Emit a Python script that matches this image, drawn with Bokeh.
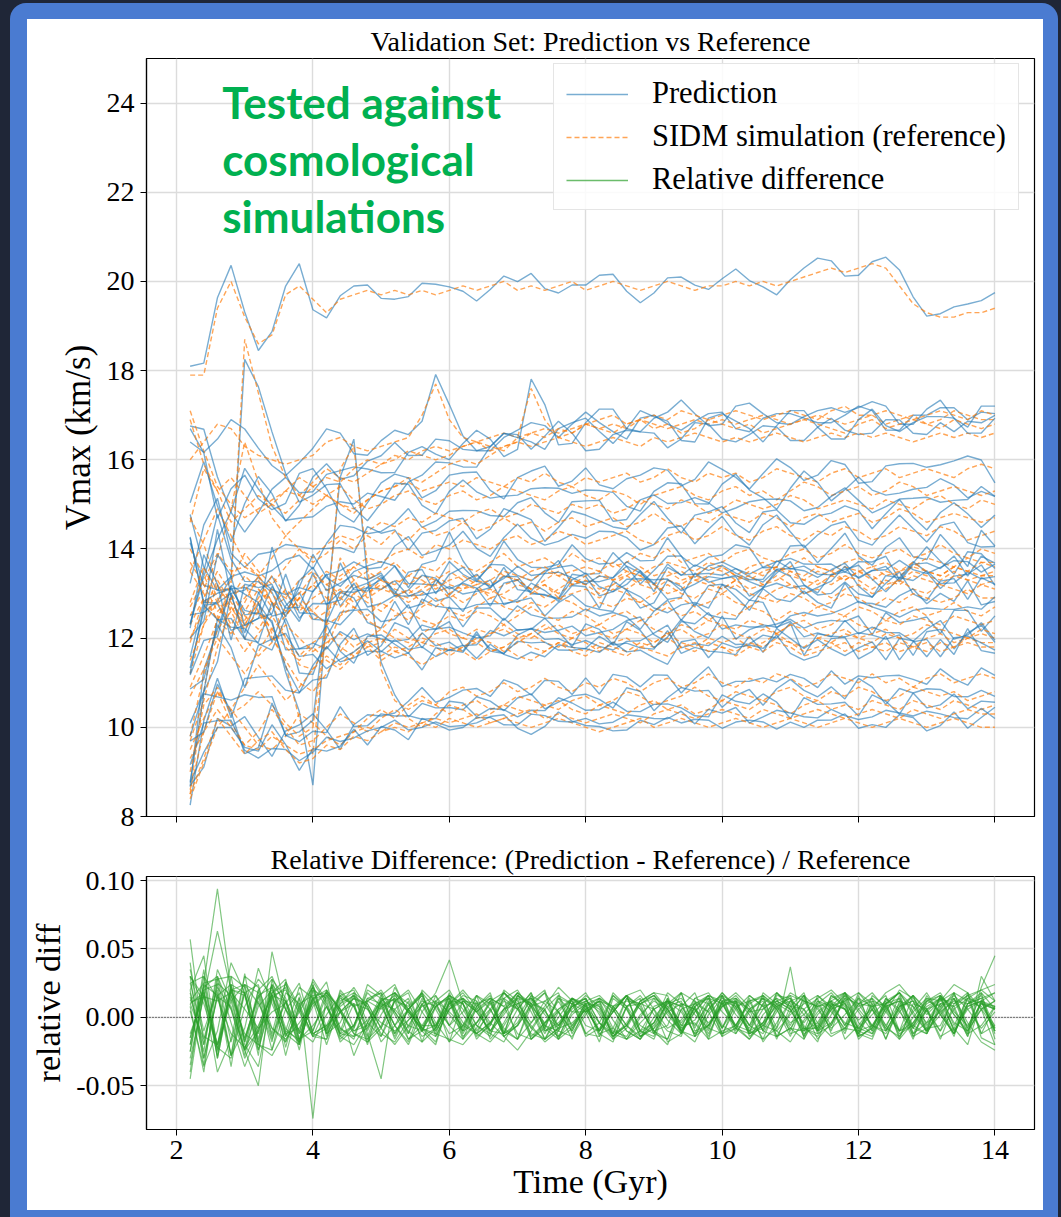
from bokeh.plotting import figure
from bokeh.layouts import column
from bokeh.models import Range1d, FixedTicker, Span, Label, Legend, LegendItem, PrintfTickFormatter
from bokeh.embed import file_html
from bokeh.resources import INLINE

# ---------------- data ----------------
time_gyr = [2.2, 2.4, 2.6, 2.8, 3.0, 3.2, 3.4, 3.6, 3.8, 4.0,
            4.2, 4.4, 4.6, 4.8, 5.0, 5.2, 5.4, 5.6, 5.8, 6.0,
            6.2, 6.4, 6.6, 6.8, 7.0, 7.2, 7.4, 7.6, 7.8, 8.0,
            8.2, 8.4, 8.6, 8.8, 9.0, 9.2, 9.4, 9.6, 9.8, 10.0,
            10.2, 10.4, 10.6, 10.8, 11.0, 11.2, 11.4, 11.6, 11.8, 12.0,
            12.2, 12.4, 12.6, 12.8, 13.0, 13.2, 13.4, 13.6, 13.8, 14.0]

# SIDM simulation (reference) Vmax, km/s
ref_s01 = [17.9, 17.9, 19.4, 20.0, 19.2, 18.6, 18.8, 19.7, 19.9, 19.6,
           19.3, 19.6, 19.7, 19.8, 19.7, 19.8, 19.7, 19.8, 19.7, 19.8,
           19.9, 19.8, 19.9, 20.0, 19.8, 19.9, 19.8, 19.9, 20.0, 19.8,
           19.9, 20.0, 19.9, 19.8, 19.9, 20.0, 19.9, 19.8, 19.9, 19.9,
           20.0, 19.9, 20.0, 19.9, 20.0, 20.1, 20.2, 20.3, 20.2, 20.3,
           20.4, 20.3, 19.9, 19.5, 19.3, 19.2, 19.2, 19.3, 19.3, 19.4]
ref_s02 = [16.0, 16.4, 16.8, 16.7, 16.3, 16.1, 16.0, 15.9, 16.0, 16.1,
           16.4, 16.5, 16.3, 16.2, 16.3, 16.4, 16.5, 17.0, 17.7, 16.9,
           16.5, 16.4, 16.5, 16.6, 16.5, 16.6, 16.7, 16.6, 16.7, 16.8,
           16.7, 16.8, 16.7, 16.9, 16.8, 16.7, 16.8, 16.9, 16.8, 16.9,
           16.8, 16.9, 17.0, 16.9, 16.8, 16.9, 17.0, 16.9, 16.8, 16.9,
           17.0, 16.8, 16.9, 17.0, 16.8, 16.9, 17.1, 17.0, 16.9, 16.9]
ref_s03 = [17.1, 16.2, 15.4, 15.0, 14.7, 14.9, 15.1, 15.3, 15.2, 15.5,
           15.8, 15.6, 15.5, 15.7, 15.9, 16.0, 16.2, 16.1, 16.0, 16.1,
           16.3, 16.4, 16.3, 16.2, 16.5, 17.6, 16.9, 16.5, 16.6, 16.8,
           16.9, 17.0, 16.8, 16.9, 17.0, 16.9, 17.1, 17.0, 16.9, 17.0,
           17.1, 17.0, 16.9, 17.0, 17.1, 17.0, 16.9, 17.1, 17.2, 17.0,
           17.0, 17.1, 17.0, 16.9, 17.0, 17.1, 17.0, 16.9, 17.1, 17.0]
ref_s04 = [14.6, 15.8, 15.3, 14.6, 14.9, 15.2, 15.0, 14.8, 15.1, 15.4,
           15.6, 15.5, 15.8, 16.0, 15.9, 16.1, 16.0, 16.2, 16.3, 16.2,
           16.3, 16.4, 16.2, 16.3, 16.4, 16.3, 16.4, 16.5, 16.4, 16.3,
           16.4, 16.5, 16.4, 16.3, 16.5, 16.4, 16.5, 16.6, 16.5, 16.4,
           16.5, 16.4, 16.5, 16.6, 16.5, 16.4, 16.5, 16.6, 16.5, 16.6,
           16.5, 16.6, 16.5, 16.4, 16.5, 16.6, 16.5, 16.6, 16.5, 16.6]
ref_s05 = [12.5, 13.1, 13.8, 14.9, 16.4, 15.5, 14.7, 14.3, 14.6, 14.9,
           15.2, 15.0, 14.8, 15.1, 15.3, 15.4, 15.6, 15.5, 15.7, 15.9,
           16.0, 15.9, 16.1, 16.3, 16.4, 16.6, 16.5, 16.7, 16.6, 16.8,
           16.7, 16.6, 16.8, 16.9, 16.7, 16.8, 16.6, 16.7, 16.9, 16.8,
           16.7, 16.8, 16.6, 16.7, 16.8, 16.9, 16.8, 16.7, 16.6, 16.8,
           16.9, 16.7, 16.8, 16.9, 16.8, 16.7, 16.9, 16.8, 16.7, 16.8]
ref_s06 = [16.9, 15.9, 15.3, 15.6, 15.2, 14.8, 15.0, 15.3, 15.6, 15.4,
           15.2, 15.0, 14.9, 15.1, 15.3, 15.4, 15.5, 15.3, 15.4, 15.5,
           15.4, 15.6, 15.5, 15.4, 15.6, 15.5, 15.7, 15.5, 15.4, 15.6,
           15.5, 15.6, 15.7, 15.5, 15.6, 15.8, 15.6, 15.5, 15.7, 15.6,
           15.7, 15.5, 15.6, 15.8, 15.7, 15.6, 15.5, 15.7, 15.8, 15.6,
           15.7, 15.8, 15.6, 15.7, 15.8, 15.7, 15.6, 15.8, 15.9, 15.8]
ref_s07 = [12.3, 12.9, 12.4, 13.2, 18.7, 17.5, 16.3, 15.6, 15.2, 15.0,
           15.2, 15.4, 15.1, 14.9, 15.0, 15.2, 15.3, 15.1, 15.0, 15.2,
           15.3, 15.1, 15.2, 15.4, 15.3, 15.2, 15.1, 15.3, 15.4, 15.2,
           15.1, 15.3, 15.2, 15.0, 15.2, 15.3, 15.4, 15.2, 15.1, 15.3,
           15.4, 15.2, 15.3, 15.1, 15.3, 15.5, 15.4, 15.2, 15.3, 15.4,
           15.2, 15.3, 15.5, 15.4, 15.2, 15.3, 15.4, 15.3, 15.2, 15.3]
ref_s08 = [14.0, 13.4, 12.8, 13.3, 13.9, 13.5, 13.2, 13.6, 14.0, 13.8,
           14.1, 14.3, 14.2, 14.4, 14.6, 14.5, 14.7, 14.6, 14.8, 14.7,
           14.6, 14.8, 14.9, 14.7, 14.8, 15.0, 14.9, 14.8, 15.0, 14.9,
           15.0, 14.8, 14.9, 15.1, 15.0, 14.9, 15.1, 15.0, 14.8, 14.9,
           15.1, 15.0, 14.9, 15.0, 15.2, 15.1, 14.9, 15.0, 15.1, 15.0,
           14.9, 15.1, 15.0, 14.9, 15.1, 15.2, 15.0, 14.9, 15.1, 15.0]
ref_s09 = [13.5, 14.2, 14.9, 14.3, 13.7, 13.4, 13.8, 14.3, 14.0, 13.7,
           13.9, 14.2, 14.0, 14.3, 14.1, 14.4, 14.2, 14.5, 14.3, 14.4,
           14.6, 14.4, 14.5, 14.7, 14.5, 14.6, 14.4, 14.6, 14.7, 14.5,
           14.6, 14.7, 14.5, 14.6, 14.8, 14.6, 14.5, 14.7, 14.6, 14.8,
           14.7, 14.6, 14.8, 14.7, 14.5, 14.7, 14.8, 14.6, 14.7, 14.8,
           14.6, 14.7, 14.9, 14.8, 14.6, 14.7, 14.8, 14.7, 14.6, 14.7]
ref_s10 = [14.7, 14.1, 13.2, 12.6, 12.9, 13.3, 12.8, 12.5, 12.9, 13.2,
           13.5, 13.3, 13.6, 13.8, 13.7, 13.9, 14.0, 13.8, 14.1, 14.0,
           14.2, 14.1, 14.0, 14.2, 14.3, 14.1, 14.2, 14.4, 14.3, 14.1,
           14.2, 14.3, 14.4, 14.2, 14.1, 14.3, 14.4, 14.2, 14.3, 14.5,
           14.3, 14.2, 14.4, 14.5, 14.3, 14.2, 14.4, 14.3, 14.5, 14.4,
           14.2, 14.3, 14.5, 14.4, 14.3, 14.5, 14.4, 14.2, 14.3, 14.4]
ref_s11 = [13.7, 13.2, 12.6, 12.9, 13.4, 13.1, 12.7, 12.9, 13.3, 13.5,
           13.2, 13.4, 13.6, 13.3, 13.5, 13.7, 13.4, 13.6, 13.5, 13.8,
           13.6, 13.5, 13.7, 13.9, 13.6, 13.7, 13.8, 13.6, 13.9, 13.7,
           13.8, 13.6, 13.7, 13.9, 13.8, 14.0, 13.7, 13.8, 13.9, 13.7,
           13.9, 14.0, 13.8, 13.7, 13.9, 14.0, 13.8, 13.9, 14.1, 13.9,
           13.8, 13.9, 14.0, 13.8, 13.9, 14.1, 13.9, 13.8, 14.0, 13.9]
ref_s12 = [12.7, 13.3, 13.9, 13.5, 13.6, 13.4, 12.8, 12.0, 11.4, 11.3,
           11.8, 12.5, 13.0, 13.2, 13.1, 13.3, 13.2, 13.4, 13.3, 13.5,
           13.3, 13.4, 13.6, 13.4, 13.3, 13.5, 13.6, 13.4, 13.5, 13.6,
           13.5, 13.7, 13.5, 13.4, 13.6, 13.7, 13.6, 13.5, 13.7, 13.6,
           13.4, 13.6, 13.7, 13.5, 13.6, 13.8, 13.6, 13.5, 13.7, 13.8,
           13.6, 13.7, 13.5, 13.6, 13.8, 13.7, 13.6, 13.8, 13.7, 13.7]
ref_s13 = [11.2, 12.3, 13.2, 12.7, 12.3, 12.8, 13.1, 12.9, 12.6, 12.9,
           13.1, 12.9, 13.2, 13.0, 13.3, 13.1, 13.0, 13.2, 13.4, 13.2,
           13.1, 13.3, 13.2, 13.4, 13.3, 13.1, 13.3, 13.5, 13.3, 13.2,
           13.4, 13.3, 13.5, 13.4, 13.2, 13.4, 13.5, 13.3, 13.4, 13.6,
           13.4, 13.3, 13.5, 13.6, 13.4, 13.3, 13.5, 13.4, 13.6, 13.5,
           13.3, 13.5, 13.4, 13.6, 13.5, 13.4, 13.6, 13.5, 13.7, 13.6]
ref_s14 = [13.5, 13.0, 12.4, 12.1, 12.6, 13.1, 12.8, 12.5, 12.9, 13.2,
           12.9, 13.1, 12.8, 13.0, 13.2, 13.0, 12.9, 13.1, 13.3, 13.0,
           13.2, 13.1, 13.0, 13.2, 13.3, 13.1, 13.2, 13.0, 13.2, 13.3,
           13.1, 13.2, 13.4, 13.2, 13.1, 13.3, 13.2, 13.4, 13.3, 13.1,
           13.3, 13.4, 13.2, 13.3, 13.5, 13.3, 13.2, 13.4, 13.3, 13.5,
           13.4, 13.2, 13.3, 13.5, 13.4, 13.3, 13.5, 13.3, 13.4, 13.4]
ref_s15 = [8.5, 10.8, 12.5, 12.9, 12.3, 12.8, 12.1, 11.4, 10.2, 9.4,
           12.3, 13.8, 13.3, 12.9, 13.1, 13.0, 12.8, 13.0, 13.2, 12.9,
           13.1, 13.2, 12.9, 13.0, 13.2, 13.1, 12.9, 13.1, 13.3, 13.2,
           13.0, 13.2, 13.1, 13.3, 13.2, 13.0, 13.1, 13.3, 13.2, 13.1,
           13.3, 13.1, 13.2, 13.4, 13.2, 13.1, 13.3, 13.2, 13.4, 13.3,
           13.1, 13.3, 13.2, 13.4, 13.3, 13.2, 13.4, 13.3, 13.2, 13.3]
ref_s16 = [12.0, 12.6, 13.3, 12.8, 12.4, 12.9, 13.4, 13.0, 12.7, 12.6,
           12.9, 12.7, 13.0, 12.8, 12.6, 12.9, 13.1, 12.8, 12.7, 13.0,
           12.8, 13.0, 13.1, 12.9, 12.8, 13.0, 13.2, 12.9, 13.0, 13.1,
           12.9, 13.1, 13.0, 12.8, 13.0, 13.2, 13.0, 12.9, 13.1, 13.0,
           13.2, 13.0, 12.9, 13.1, 13.2, 13.0, 13.1, 12.9, 13.1, 13.2,
           13.0, 13.1, 13.3, 13.1, 13.0, 13.2, 13.1, 13.0, 13.2, 13.1]
ref_s17 = [11.9, 12.9, 13.5, 13.0, 12.5, 12.2, 12.7, 13.1, 12.8, 12.4,
           12.6, 12.9, 12.7, 12.5, 12.8, 12.6, 12.4, 12.7, 12.9, 12.6,
           12.5, 12.7, 12.9, 12.7, 12.6, 12.8, 12.7, 12.9, 12.8, 12.6,
           12.8, 12.7, 12.9, 12.8, 12.6, 12.8, 12.9, 12.7, 12.8, 13.0,
           12.8, 12.7, 12.9, 12.8, 13.0, 12.9, 12.7, 12.8, 13.0, 12.9,
           12.7, 12.9, 12.8, 13.0, 12.9, 12.8, 12.9, 13.1, 12.9, 12.9]
ref_s18 = [10.9, 11.6, 12.4, 12.9, 13.2, 12.6, 12.2, 12.5, 12.9, 12.6,
           12.3, 12.5, 12.7, 12.4, 12.2, 12.5, 12.6, 12.4, 12.3, 12.5,
           12.4, 12.6, 12.5, 12.3, 12.5, 12.7, 12.5, 12.4, 12.6, 12.5,
           12.3, 12.5, 12.6, 12.4, 12.5, 12.7, 12.5, 12.6, 12.4, 12.6,
           12.5, 12.7, 12.6, 12.4, 12.6, 12.5, 12.7, 12.6, 12.5, 12.7,
           12.6, 12.4, 12.6, 12.7, 12.5, 12.6, 12.8, 12.6, 12.5, 12.7]
ref_s19 = [12.8, 13.6, 12.9, 12.3, 12.8, 13.4, 13.0, 12.6, 13.0, 13.4,
           13.2, 13.0, 13.3, 13.5, 13.3, 13.2, 13.4, 13.3, 13.1, 13.3,
           13.4, 13.2, 13.3, 13.5, 13.4, 13.3, 13.5, 13.4, 13.2, 13.4,
           13.5, 13.3, 13.4, 13.6, 13.4, 13.5, 13.3, 13.4, 13.6, 13.5,
           13.3, 13.5, 13.4, 13.6, 13.5, 13.4, 13.6, 13.5, 13.3, 13.5,
           13.6, 13.4, 13.5, 13.7, 13.5, 13.4, 13.6, 13.5, 13.4, 13.5]
ref_s20 = [9.8, 11.2, 12.2, 12.6, 12.0, 11.6, 11.9, 12.3, 12.0, 11.7,
           11.9, 12.1, 11.8, 12.0, 12.2, 12.0, 11.9, 12.1, 12.3, 12.1,
           12.0, 12.2, 12.1, 12.3, 12.1, 12.0, 12.2, 12.3, 12.1, 12.2,
           12.3, 12.1, 12.2, 12.4, 12.2, 12.1, 12.3, 12.2, 12.4, 12.3,
           12.2, 12.4, 12.3, 12.1, 12.3, 12.4, 12.2, 12.3, 12.5, 12.3,
           12.2, 12.4, 12.3, 12.5, 12.4, 12.3, 12.5, 12.4, 12.3, 12.4]
ref_s21 = [11.5, 12.3, 12.8, 12.2, 11.7, 12.1, 12.5, 12.0, 11.6, 11.9,
           12.1, 11.8, 11.6, 11.9, 12.0, 11.7, 11.8, 12.0, 11.9, 11.7,
           11.8, 12.0, 11.9, 11.7, 11.9, 12.1, 11.9, 11.8, 12.0, 11.9,
           11.7, 11.9, 12.0, 11.8, 11.9, 12.1, 11.9, 11.8, 12.0, 11.9,
           12.0, 11.8, 11.9, 12.1, 11.9, 11.8, 12.0, 11.9, 12.1, 12.0,
           11.9, 12.1, 12.0, 11.8, 12.0, 12.1, 11.9, 12.0, 12.1, 12.0]
ref_s22 = [8.6, 9.9, 10.8, 10.4, 10.9, 11.4, 11.0, 10.6, 10.9, 11.3,
           11.6, 11.4, 11.7, 11.9, 11.6, 11.8, 11.7, 11.9, 11.8, 11.6,
           11.8, 11.9, 11.7, 11.8, 12.0, 11.8, 11.7, 11.9, 11.8, 11.7,
           11.9, 11.8, 11.7, 11.9, 11.8, 12.0, 11.8, 11.7, 11.9, 11.8,
           11.7, 11.9, 11.8, 12.0, 11.9, 11.7, 11.8, 11.9, 11.7, 11.9,
           11.8, 11.7, 11.9, 11.8, 11.7, 11.9, 11.8, 12.0, 11.9, 11.9]
ref_s23 = [10.7, 11.3, 12.0, 11.6, 11.2, 11.7, 12.2, 11.8, 11.5, 11.8,
           11.5, 11.3, 11.6, 11.8, 11.5, 11.7, 11.6, 11.4, 11.6, 11.8,
           11.7, 11.5, 11.7, 11.8, 11.6, 11.5, 11.7, 11.9, 11.7, 11.6,
           11.8, 11.7, 11.6, 11.8, 11.7, 11.6, 11.8, 11.9, 11.7, 11.8,
           11.6, 11.8, 11.7, 11.9, 11.8, 11.6, 11.7, 11.8, 11.9, 11.7,
           11.8, 11.9, 11.7, 11.8, 11.9, 11.7, 11.8, 11.9, 11.8, 11.8]
ref_s24 = [9.7, 10.6, 11.8, 12.7, 12.2, 12.6, 12.0, 11.5, 11.0, 10.8,
           11.2, 11.7, 12.1, 11.8, 11.9, 12.2, 12.0, 11.9, 12.1, 12.2,
           12.0, 11.9, 12.1, 12.2, 12.0, 12.1, 12.3, 12.1, 12.0, 12.2,
           12.1, 12.0, 12.2, 12.1, 11.9, 12.1, 12.2, 12.0, 12.1, 12.3,
           12.1, 12.0, 12.2, 12.1, 12.3, 12.2, 12.0, 12.1, 12.2, 12.0,
           12.1, 12.2, 12.0, 12.1, 12.3, 12.2, 12.1, 12.0, 12.2, 12.1]
ref_s25 = [8.4, 9.2, 10.0, 10.4, 10.0, 9.6, 9.5, 9.8, 10.3, 10.1,
           9.8, 9.6, 9.9, 10.2, 10.4, 10.2, 10.5, 10.7, 10.5, 10.8,
           10.9, 10.7, 10.8, 11.0, 10.8, 10.9, 11.1, 10.9, 10.8, 11.0,
           10.9, 11.1, 11.0, 10.8, 11.0, 11.1, 10.9, 11.0, 11.2, 11.0,
           10.9, 11.1, 11.0, 11.2, 11.1, 10.9, 11.0, 11.2, 11.1, 11.0,
           11.2, 11.0, 11.1, 10.9, 11.1, 11.2, 11.0, 11.1, 11.2, 11.1]
ref_s26 = [9.0, 10.5, 10.9, 10.3, 10.5, 10.8, 10.5, 10.1, 9.8, 10.0,
           12.4, 15.8, 16.3, 13.6, 11.3, 10.6, 10.4, 10.6, 10.5, 10.3,
           10.5, 10.6, 10.4, 10.5, 10.7, 10.6, 10.5, 10.4, 10.6, 10.7,
           10.5, 10.6, 10.8, 10.7, 10.5, 10.6, 10.7, 10.9, 10.7, 10.6,
           10.8, 10.7, 10.6, 10.8, 10.9, 10.7, 10.6, 10.8, 10.7, 10.9,
           10.8, 10.6, 10.7, 10.9, 10.8, 10.7, 10.8, 10.6, 10.7, 10.8]
ref_s27 = [9.5, 10.2, 10.8, 10.1, 9.6, 9.9, 10.4, 10.0, 9.6, 9.7,
           10.0, 10.3, 10.1, 9.9, 10.2, 10.4, 10.2, 10.0, 10.3, 10.5,
           10.4, 10.2, 10.3, 10.5, 10.4, 10.3, 10.5, 10.6, 10.4, 10.3,
           10.5, 10.4, 10.3, 10.5, 10.6, 10.4, 10.5, 10.3, 10.4, 10.6,
           10.5, 10.4, 10.6, 10.5, 10.3, 10.5, 10.6, 10.4, 10.5, 10.4,
           10.6, 10.5, 10.4, 10.6, 10.5, 10.4, 10.6, 10.5, 10.4, 10.5]
ref_s28 = [9.3, 9.9, 10.4, 10.0, 9.6, 9.5, 9.8, 9.6, 9.4, 9.5,
           9.7, 9.8, 9.9, 10.0, 9.9, 10.1, 10.0, 10.1, 10.0, 10.2,
           10.1, 10.0, 10.1, 10.2, 10.1, 10.0, 10.1, 10.2, 10.1, 10.0,
           9.9, 10.0, 10.1, 10.2, 10.0, 10.1, 10.2, 10.1, 10.0, 10.1,
           10.2, 10.1, 10.0, 10.1, 10.2, 10.1, 10.0, 10.1, 10.2, 10.1,
           10.0, 10.1, 10.2, 10.1, 10.0, 10.1, 10.2, 10.1, 10.0, 10.0]
ref_s29 = [8.5, 9.3, 10.2, 9.8, 9.4, 9.7, 9.9, 9.5, 9.2, 9.3,
           9.6, 9.5, 9.8, 9.7, 9.9, 10.0, 9.9, 10.1, 10.2, 10.1,
           10.2, 10.3, 10.1, 10.2, 10.3, 10.4, 10.2, 10.3, 10.2, 10.1,
           10.2, 10.3, 10.2, 10.1, 10.3, 10.4, 10.3, 10.2, 10.3, 10.4,
           10.3, 10.2, 10.4, 10.3, 10.2, 10.3, 10.4, 10.3, 10.2, 10.3,
           10.4, 10.3, 10.2, 10.4, 10.3, 10.2, 10.3, 10.4, 10.3, 10.3]

# relative difference (Prediction - Reference) / Reference, in units of 0.001
rd_s01 = [11, 15, 12, 18, 6, -8, 4, 10, 25, -12, -6, 4, 10, 6, -4, -10, -2, 8, 12, 4,
          -6, -12, -4, 6, 10, 14, 2, -8, -4, 6, 12, 8, -6, -14, -8, 4, 10, 6, -4, 8,
          14, 6, -6, -10, 2, 10, 16, 8, -4, -8, 2, 12, 18, 8, -4, 4, 12, 10, 14, 18]
rd_s02 = [25, -14, -20, 12, 24, 10, -8, -16, -4, 10, 18, 6, -10, -6, 8, 16, 4, -8, 12, 20,
          2, -12, -18, -6, 10, 14, 4, -6, 6, 16, 8, -10, -14, 2, 12, 6, -8, -2, 14, 10,
          -6, -16, -4, 8, 14, 2, -10, -4, 12, 18, 6, -8, -14, 0, 12, 16, 4, -6, 10, 8]
rd_s03 = [-20, 30, 14, -12, -22, -6, 16, 20, 4, -14, -8, 10, 22, 6, -12, -18, -2, 12, 8, -6,
          4, 16, 10, -8, -16, 12, 20, -10, -14, 2, 14, 8, -6, -16, -4, 10, 14, 2, -8, -12,
          6, 16, 8, -10, -18, -2, 12, 4, -8, 10, 18, 6, -12, -6, 8, 14, -4, -10, 6, 12]
rd_s04 = [30, 10, -22, -30, 8, 28, 16, -12, -8, 14, 20, 4, -10, -2, 12, 18, 6, -6, 10, 14,
          -4, -12, 6, 18, 10, -4, 8, 22, 12, -6, -10, 4, 16, 20, 6, -8, -2, 14, 18, 4,
          -6, 10, 16, 8, -4, 2, 14, 20, 10, -2, 6, 18, 24, 12, 4, 14, 8, 16, 20, 24]
rd_s05 = [-15, 22, 30, -4, -36, -10, 18, 24, 6, -12, -16, 4, 14, 10, -8, -20, -6, 10, 16, 2,
          -10, -4, 12, 18, 6, -12, -16, 0, 14, 8, -4, -14, -6, 12, 16, 4, -10, -18, 2, 14,
          10, -6, -12, 4, 18, 12, -4, -14, -8, 6, 14, 4, -10, -4, 10, 16, 2, -12, -6, 8]
rd_s06 = [-12, 16, -40, -16, 30, 22, -8, -18, 6, 26, 10, -14, -20, -4, 12, 18, 6, -10, -6, 10,
          20, 8, -12, -18, 0, 16, 10, -6, 8, 14, -4, -16, -8, 10, 14, -2, -12, 4, 16, 12,
          -6, -10, 6, 14, 8, -4, 10, 18, 6, -8, -12, 4, 20, 14, 2, 12, 24, 18, 6, -20]
rd_s07 = [18, -25, 35, 12, -24, 8, 20, 6, -10, 14, 16, 4, -12, -18, 2, 18, 10, -8, -14, 6,
          16, 12, -4, -14, -6, 10, 18, 4, -10, 8, 14, -2, -16, -10, 6, 12, 4, -12, -6, 10,
          18, 8, -10, -14, 4, 16, 6, -8, 2, 14, 8, -6, -16, -4, 12, 18, 2, -10, 6, -8]
rd_s08 = [10, -16, 22, 6, -30, -8, 24, 12, -10, -18, 2, 16, 20, -4, -14, 6, 14, -8, -12, 10,
          18, 4, -10, 2, 16, 10, -6, -14, 4, 12, 6, -12, -16, 0, 14, 8, -4, 10, 16, -6,
          -12, 4, 14, 8, -8, -16, 2, 12, 18, 6, -6, -10, 8, 16, 4, -10, 6, 14, 20, 12]
rd_s09 = [-20, 24, 16, -28, -8, 36, 10, -14, 4, 22, 8, -12, -6, 14, 18, 2, -16, -10, 8, 16,
          6, -12, -4, 14, 20, 4, -16, -8, 10, 18, 2, -14, -4, 12, 18, 6, -10, 4, 16, 10,
          -8, -16, 2, 12, 6, -10, -4, 14, 18, 4, -10, 6, 14, -6, -12, 8, 16, 6, -8, 4]
rd_s10 = [5, -36, -10, 40, 18, -20, -24, 6, 18, -12, -6, 16, 8, -18, -8, 12, 20, 4, -10, 6,
          14, -6, -12, 4, 18, 10, -8, -16, 2, 10, 14, 6, -10, -16, 0, 12, 8, -6, 10, 16,
          2, -8, 10, 18, 6, -12, -6, 16, 8, -14, -8, 10, 18, 4, -10, 2, 14, -4, -18, -24]
rd_s11 = [40, -30, 15, 8, -24, 20, 30, 6, -12, 28, 12, -18, -8, 24, 16, -6, -20, 4, 18, 42,
          10, -14, -6, 20, 12, -8, -16, 4, 14, 6, -10, 6, 16, -12, -4, 18, 10, -14, -6, 12,
          14, 2, -16, -8, 12, 6, -8, 8, 18, -4, -12, 10, 18, 2, -10, 16, 6, -14, 30, 12]
rd_s12 = [-30, 15, 63, 20, -24, -10, 18, 28, -16, -10, 20, 6, -28, -4, 16, 24, 2, -14, -8, 16,
          10, -10, 4, 18, 8, -16, -6, 14, 10, -12, -4, 16, 8, -14, -6, 10, 18, -10, -6, 8,
          12, -12, -8, 16, 14, -10, 4, 12, -16, -6, 8, 10, -14, 6, 18, 2, -12, 10, 14, -10]
rd_s13 = [12, 25, 94, 20, -15, 16, 22, -8, -18, 12, 26, -14, -6, 18, 8, -12, 6, 16, -4, -18,
          12, 10, -6, 14, -16, -4, 12, 18, -8, 6, -10, 4, 16, 8, -12, 14, -6, 10, 4, -14,
          12, 6, -18, -4, 12, 16, -10, 10, 6, -12, 16, 8, -10, 4, 14, 12, 18, -8, 10, 6]
rd_s14 = [57, -20, 30, 6, -24, -50, 28, 14, -16, 20, -12, -4, 18, 10, -8, 22, 4, -10, -20, 12,
          -16, -4, 10, 14, 6, -6, -18, -10, 8, 12, 4, -12, -6, 10, 16, 2, -10, -14, 6, 18,
          8, -10, -4, 12, 16, -8, -14, 2, 18, 10, -6, -12, 4, 16, 6, -14, -8, 10, 18, -16]
rd_s15 = [20, 45, -25, 20, 18, -18, 24, -14, 15, -74, 20, -8, -16, 12, 20, 4, -10, -18, 8, 16,
          10, -6, -14, 18, 8, -8, 6, -16, 10, 14, -4, -12, 8, 16, 2, -10, -14, 12, 4, 18,
          6, -12, -6, 10, 14, -8, -12, 6, 16, -10, -14, 8, 12, -8, 16, 2, -12, 14, 10, 6]
rd_s16 = [-35, 18, -22, 24, 18, -28, 48, 6, -20, 14, -10, 12, 18, -8, 14, 4, -12, 20, 10, -6,
          -16, 8, 16, -12, 6, 18, -10, -6, 14, 4, -18, 14, 6, -10, -16, 8, 12, -14, 6, 16,
          -8, -12, 18, 10, -6, 14, -10, 8, 12, -16, -6, 10, 14, -8, -12, 6, 18, -10, 12, 8]
rd_s17 = [8, -40, 28, 30, -18, 20, -12, 26, -18, 12, -20, 10, 16, -12, -45, 18, -8, 14, -14, 6,
          12, 4, -10, 6, 18, 8, -16, -8, 14, 10, -12, -8, 14, 10, 6, -18, -12, 8, -10, 16,
          10, -6, 16, 6, -14, 12, 8, -10, 18, -8, 6, -16, 12, 8, -10, 16, -6, 14, -12, -6]
rd_s18 = [25, 30, -30, 22, -16, 16, -24, 18, 10, -14, 8, -16, -6, 20, 14, -6, 12, -18, -8, 16,
          -12, 6, 14, 8, 18, -14, -4, 4, -10, 12, 16, 6, -10, -16, 8, 12, -8, 14, 10, -12,
          -6, 12, 16, -14, -8, 6, -16, -4, 14, 10, 8, 16, -10, -6, 14, 4, -12, 8, 12, 18]
rd_s19 = [-45, 20, 24, -28, 32, -20, 16, -10, 22, 14, -10, 18, 8, -14, 12, -16, 6, 18, -8, 10,
          14, 6, -10, -12, 16, 8, -4, 6, 12, -14, -8, 4, 16, -10, -14, 12, 8, 18, -6, 10,
          12, -14, -6, 10, 4, 16, -12, -6, 14, -10, -6, 10, 18, -12, -4, 14, 10, 16, 6, 12]
rd_s20 = [30, -35, 18, -28, 18, 24, -14, 12, -20, 16, -12, 4, 14, 8, -18, -6, 6, 16, -8, 12,
          10, -16, -4, 12, 6, 18, -6, -10, 14, -12, -14, 8, 16, 6, -10, -16, 6, 10, 14, -8,
          8, -12, -4, 18, 10, -14, 12, 8, -10, 16, -10, 14, 4, -8, 6, -16, 10, 18, -12, 8]
rd_s21 = [-25, 35, -30, 20, 24, -16, 24, -22, 14, -10, 16, -8, -14, 12, 6, 14, -12, 10, -6, 18,
          -8, 12, -16, -4, 14, 10, 6, 16, -12, 4, 10, -14, -6, 12, 18, 16, -10, 6, -14, 12,
          -12, 6, 14, -8, 37, -16, 8, 12, -6, 10, 14, -10, 6, -16, 12, 8, -12, 10, 16, -8]
rd_s22 = [-40, 25, 28, -18, 18, -24, 14, 22, -12, 8, 18, 6, -12, -16, 8, 14, 4, -8, -18, 12,
          -10, 16, 6, -12, -6, 8, 18, -14, -6, 6, 12, 4, 16, -10, -4, 14, -12, 8, -16, -10,
          -6, 12, -10, 18, 8, 6, 14, -12, -8, -10, 10, -16, 8, 12, -10, 6, -14, 18, -15, -20]
rd_s23 = [15, -20, 25, 16, -28, 12, -18, 26, 8, -14, -16, 20, 8, 12, 18, -12, 6, -10, 16, -6,
          12, 4, 14, -14, -6, 16, -10, -4, 8, 14, -10, 18, 8, -6, -12, -16, 10, 6, -12, 8,
          16, 4, 6, 14, -12, -8, -8, 16, 10, -14, -8, 12, -16, 10, 6, -10, 18, 12, 8, -6]
rd_s24 = [10, 18, -28, 24, -18, 14, 28, -12, -20, 24, -8, 14, 10, -16, -6, 12, 18, -10, 8, 14,
          -14, -4, 6, -12, 16, 8, 12, 4, -16, 10, 8, -12, 14, 6, -10, -6, 18, 12, -8, 16,
          -10, 16, 8, 12, 6, -14, 10, -6, 16, 8, 12, -6, 10, -14, -8, 16, -10, 6, 12, -12]
rd_s25 = [35, -10, 20, -36, 24, 18, -16, 12, -24, 20, 14, -10, 16, 8, -14, 12, 8, 18, 6, -12,
          -6, 16, -10, 6, 14, -16, -4, 12, -6, 10, -14, 8, 12, 10, 16, 6, -12, 8, 14, -8,
          12, -6, 10, -16, 8, 18, -10, 6, -12, 14, -8, 14, 6, 16, -12, 10, 8, -14, 12, 6]
rd_s26 = [-25, 24, -20, 30, 22, -12, 18, -28, 10, 16, 18, -12, 10, -20, 14, 12, -16, -6, -6, 14,
          -10, 8, 18, -12, -4, 14, -8, 16, 10, 4, 12, -16, 8, 10, -12, 6, 18, -8, 12, -14,
          -8, 14, -10, 6, 16, 12, 8, 10, -6, 18, 10, -8, 16, -12, 6, 14, -10, 8, 12, -10]
rd_s27 = [20, -30, 16, 24, -20, -36, 14, -18, 8, 22, -12, 16, -8, 14, 10, -14, 6, 18, -10, 8,
          14, 4, 12, -10, -16, 8, -12, 6, 14, 8, -10, 16, 6, -14, -8, 12, -6, -4, -16, 12,
          8, 12, 14, 6, -10, 16, -8, 12, 6, -14, 12, 8, -10, 16, -6, 10, 14, -8, 18, 6]
rd_s28 = [-15, 20, -24, 16, -12, -20, -28, -10, -16, -6, 8, -12, -14, -8, 10, 6, -6, -10, 12, -18,
          -6, 10, 14, 8, -12, -16, -8, 14, 4, 4, 12, -8, -16, -4, 6, 12, -10, 8, 16, -12,
          -8, 6, 12, -14, -8, -10, 16, 6, 10, -12, 6, -10, 8, 12, -8, -6, 14, -12, 22, 45]
rd_s29 = [30, 15, -20, 20, 16, -24, 16, 12, -18, 24, -14, 8, 16, -10, 12, -6, -18, 10, -12, -16,
          -20, -8, 12, -14, -24, -10, 6, -16, -8, 10, -12, -18, 8, 14, -10, -20, 6, -12, 10, -8,
          14, -10, -16, 8, 12, -6, -18, 10, 6, -12, -16, 8, 12, -14, 6, 10, -8, -20, 12, -10]

ref_series = [ref_s01, ref_s02, ref_s03, ref_s04, ref_s05, ref_s06, ref_s07, ref_s08, ref_s09, ref_s10,
              ref_s11, ref_s12, ref_s13, ref_s14, ref_s15, ref_s16, ref_s17, ref_s18, ref_s19, ref_s20,
              ref_s21, ref_s22, ref_s23, ref_s24, ref_s25, ref_s26, ref_s27, ref_s28, ref_s29]
rd_series = [rd_s01, rd_s02, rd_s03, rd_s04, rd_s05, rd_s06, rd_s07, rd_s08, rd_s09, rd_s10,
             rd_s11, rd_s12, rd_s13, rd_s14, rd_s15, rd_s16, rd_s17, rd_s18, rd_s19, rd_s20,
             rd_s21, rd_s22, rd_s23, rd_s24, rd_s25, rd_s26, rd_s27, rd_s28, rd_s29]

y_ticks_top = [8, 10, 12, 14, 16, 18, 20, 22, 24]
y_ticks_bottom = [-0.05, 0.0, 0.05, 0.10]
x_ticks = [2, 4, 6, 8, 10, 12, 14]
annotation_lines = ["Tested against", "cosmological", "simulations"]

# ---------------- styling ----------------
BLUE = "#1f77b4"
ORANGE = "#ff7f0e"
GREEN = "#2ca02c"
SERIF = "Liberation Serif"
GRID = "#dcdcdc"


def style(p):
    p.background_fill_color = "white"
    p.border_fill_color = "white"
    p.outline_line_color = "black"
    p.outline_line_width = 1.2
    for ax in (p.xaxis[0], p.yaxis[0]):
        ax.axis_line_color = "black"
        ax.axis_line_width = 1.2
        ax.major_tick_line_color = "black"
        ax.major_tick_out = 6
        ax.major_tick_in = 0
        ax.minor_tick_line_color = None
        ax.major_label_text_font = SERIF
        ax.major_label_text_font_size = "28px"
        ax.major_label_text_color = "black"
        ax.axis_label_text_font = SERIF
        ax.axis_label_text_font_size = "34px"
        ax.axis_label_text_font_style = "normal"
        ax.axis_label_text_color = "black"
    p.grid.grid_line_color = GRID
    p.grid.grid_line_width = 1.4
    p.title.text_font = SERIF
    p.title.text_font_size = "28px"
    p.title.text_font_style = "normal"
    p.title.align = "center"
    p.title.text_color = "black"


p1 = figure(width=1016, height=821, x_range=Range1d(1.56, 14.58), y_range=Range1d(8, 25),
            output_backend="svg", toolbar_location=None,
            min_border_left=119, min_border_right=9, min_border_top=39, min_border_bottom=24,
            title="Validation Set: Prediction vs Reference")
style(p1)
p1.title.standoff = 4
p1.xaxis.ticker = FixedTicker(ticks=x_ticks)
p1.yaxis.ticker = FixedTicker(ticks=y_ticks_top)
p1.xaxis.major_label_overrides = {t: "" for t in x_ticks}
p1.xaxis.major_label_text_font_size = "0px"
p1.xaxis.major_label_standoff = 0
p1.yaxis.axis_label = "Vmax (km/s)"
p1.yaxis.axis_label_text_font_size = "35px"
p1.yaxis.major_label_standoff = 6
p1.yaxis.axis_label_standoff = 6

p2 = figure(width=1016, height=370, x_range=p1.x_range, y_range=Range1d(-0.082, 0.103),
            output_backend="svg", toolbar_location=None,
            min_border_left=119, min_border_right=8, min_border_top=36, min_border_bottom=81,
            title="Relative Difference: (Prediction - Reference) / Reference")
style(p2)
p2.title.standoff = 3
p2.xaxis.ticker = FixedTicker(ticks=x_ticks)
p2.yaxis.ticker = FixedTicker(ticks=y_ticks_bottom)
p2.yaxis.formatter = PrintfTickFormatter(format="%.2f")
p2.xaxis.axis_label = "Time (Gyr)"
p2.yaxis.axis_label = "relative diff"
p2.xaxis.major_label_standoff = 5
p2.xaxis.axis_label_standoff = 1
p2.yaxis.major_label_standoff = 6
p2.yaxis.axis_label_standoff = 6

first_pred = first_ref = None
for ref, rd in zip(ref_series, rd_series):
    pred = [r * (1 + d / 1000.0) for r, d in zip(ref, rd)]
    rp = p1.line(time_gyr, pred, line_color=BLUE, line_alpha=0.6, line_width=1.4)
    rr = p1.line(time_gyr, ref, line_color=ORANGE, line_alpha=0.7, line_width=1.4, line_dash="5 3")
    if first_pred is None:
        first_pred, first_ref = rp, rr
    p2.line(time_gyr, [d / 1000.0 for d in rd], line_color=GREEN, line_alpha=0.6, line_width=1.2)

p2.add_layout(Span(location=0, dimension="width", line_color="black", line_width=1,
                   line_dash="1 2"))

# legend proxy for the green series (lies outside the visible ranges)
green_proxy = p1.line([0.0, 0.5], [0.0, 0.0], line_color=GREEN, line_alpha=0.7, line_width=1.4)
legend = Legend(items=[LegendItem(label="Prediction", renderers=[first_pred]),
                       LegendItem(label="SIDM simulation (reference)", renderers=[first_ref]),
                       LegendItem(label="Relative difference", renderers=[green_proxy])],
                location=(407, 606))
legend.label_text_font = SERIF
legend.label_text_font_size = "30.5px"
legend.label_text_color = "black"
legend.label_height = 30
legend.glyph_height = 30
legend.glyph_width = 62
legend.label_standoff = 24
legend.spacing = 8
legend.padding = 12
legend.margin = 0
legend.border_line_color = "#cccccc"
legend.border_line_width = 1.2
legend.background_fill_alpha = 0.85
p1.add_layout(legend)

baselines = [24.02, 22.74, 21.47]
for txt, yb in zip(annotation_lines, baselines):
    p1.add_layout(Label(x=2.67, y=yb, text=txt, text_font="Lato", text_font_size="44px",
                        text_font_style="bold", text_color="#00b050", text_baseline="alphabetic"))

white = column(p1, p2, spacing=0, styles={"background-color": "white"})
inner = column(white, spacing=0,
               styles={"background-color": "#4a7bd1", "padding": "16px 15px 7px 17px",
                       "border-radius": "16px 16px 0 0"})
page = column(inner, spacing=0,
              styles={"background-color": "#1f2637", "padding": "3px 3px 0px 10px"})

open("out.html", "w").write(file_html(page, INLINE, title="Validation Set"))
